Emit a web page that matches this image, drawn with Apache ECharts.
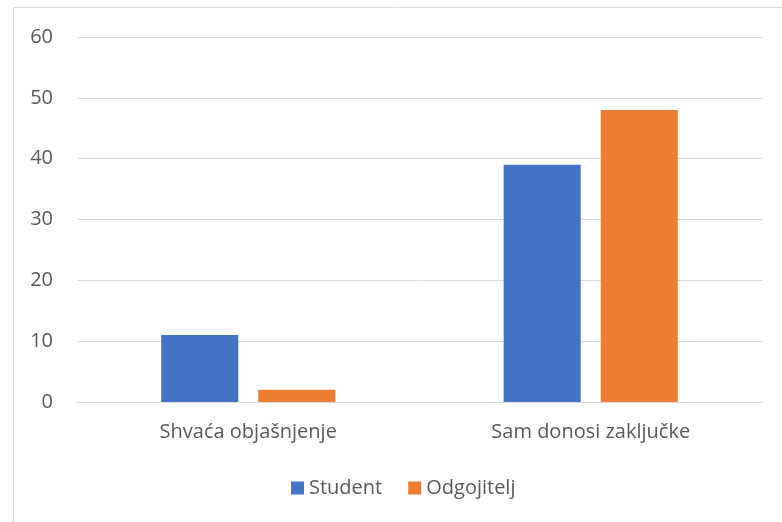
<!DOCTYPE html>
<html>
<head>
<meta charset="utf-8">
<script src="https://cdn.jsdelivr.net/npm/echarts@6/dist/echarts.min.js"></script>
<style>
  html, body { margin: 0; padding: 0; background: #fff; }
  #chart { width: 782px; height: 522px; }
</style>
</head>
<body>
<div id="chart"></div>
<script>
// values
const categories = ['Shvaća objašnjenje', 'Sam donosi zaključke'];
const studentValues = [11, 39];
const odgojiteljValues = [2, 48];
const seriesNames = ['Student', 'Odgojitelj'];

const textColor = '#595959';
const fontFamily = '"Open Sans", "Noto Sans", sans-serif';

const chart = echarts.init(document.getElementById('chart'));

chart.setOption({
  animation: false,
  color: ['#4472C4', '#ED7D31'],
  graphic: [{
    type: 'rect',
    shape: { x: 13.5, y: 7.5, width: 800, height: 600 },
    style: { fill: 'none', stroke: '#d9d9d9', lineWidth: 1 },
    silent: true,
  }],
  grid: { left: 77, right: 20, top: 37, bottom: 120, containLabel: false },
  legend: {
    bottom: 19,
    left: 286,
    itemWidth: 13,
    itemHeight: 13,
    itemGap: 26,
    icon: 'rect',
    textStyle: { color: textColor, fontSize: 20, fontFamily },
    data: seriesNames,
  },
  xAxis: {
    type: 'category',
    data: categories,
    axisLine: { lineStyle: { color: '#d9d9d9' } },
    axisTick: { show: false },
    axisLabel: { color: textColor, fontSize: 20, fontFamily, margin: 20 },
  },
  yAxis: {
    type: 'value',
    min: 0,
    max: 60,
    interval: 10,
    axisLine: { show: false },
    axisTick: { show: false },
    axisLabel: { color: textColor, fontSize: 20, fontFamily, margin: 24 },
    splitLine: { lineStyle: { color: '#d9d9d9' } },
  },
  series: [
    {
      name: seriesNames[0],
      type: 'bar',
      data: studentValues,
      barWidth: '22.5%',
      barGap: '26%',
    },
    {
      name: seriesNames[1],
      type: 'bar',
      data: odgojiteljValues,
      barWidth: '22.5%',
      barGap: '26%',
    },
  ],
});
</script>
</body>
</html>
